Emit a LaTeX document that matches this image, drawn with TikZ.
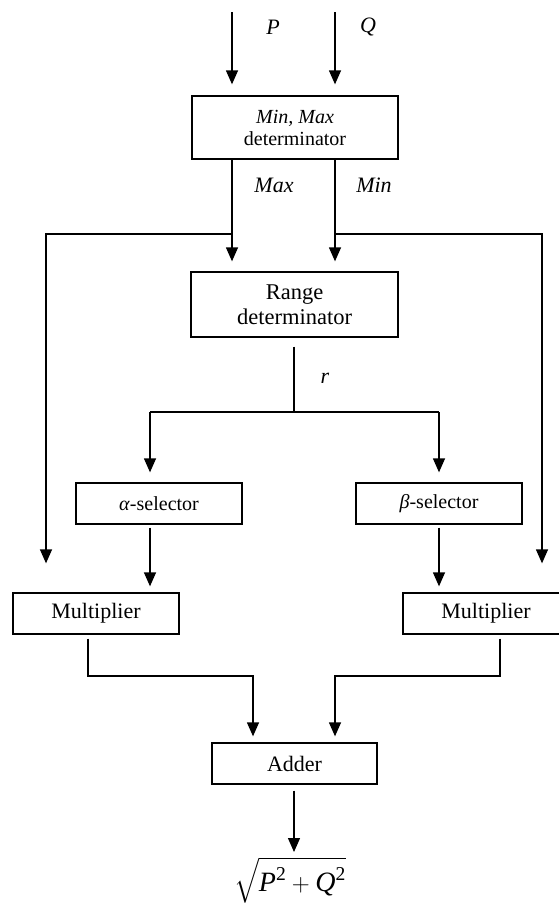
\documentclass[tikz,border=0pt]{standalone}
\usepackage{amsmath}
\usepackage{fontspec}
\setmainfont{Liberation Serif}
\usetikzlibrary{arrows.meta}
\begin{document}
\begin{tikzpicture}[x=1pt,y=-1pt,
  box/.style={draw,line width=1.3pt,inner sep=0pt,align=center,font=\fontsize{20}{22}\selectfont},
  bigbox/.style={box,font=\fontsize{22.5}{25}\selectfont},
  wbox/.style={box,font=\fontsize{22}{24}\selectfont},
  arr/.style={line width=1.3pt,-{Triangle[length=14pt,width=12pt]}},
  ln/.style={line width=1.3pt},
  lab/.style={font=\fontsize{22}{24}\selectfont\itshape,inner sep=0pt}]
\useasboundingbox (0,0) rectangle (559,905);
% boxes
\node[box,minimum width=206pt,minimum height=63pt] (mm) at (295,127.5) {\textit{Min, Max}\\determinator};
\node[bigbox,minimum width=207pt,minimum height=65pt] (rng) at (294.5,304.5) {Range\\determinator};
\node[box,minimum width=166pt,minimum height=41pt] (al) at (159,503.5) {\textit{α}-selector};
\node[box,minimum width=166pt,minimum height=41pt] (be) at (439,503.5) {\textit{β}-selector};
\node[wbox,minimum width=166pt,minimum height=41pt] (mL) at (96,613.5) {Multiplier};
\node[wbox,minimum width=166pt,minimum height=41pt] (mR) at (486,613.5) {Multiplier};
\node[wbox,minimum width=165pt,minimum height=41pt] (ad) at (294.5,763.5) {Adder};
\node[anchor=south,inner sep=0pt,font=\fontsize{28}{30}\selectfont] (res) at (290,903) {$\sqrt{\textit{P}^{\text{2}}+\textit{Q}^{\text{2}}}$};
% labels
\node[lab] (lp) at (273,27) {P};
\node[lab] (lq) at (368,27) {Q};
\node[lab] (lmax) at (274,185) {Max};
\node[lab] (lmin) at (374,185) {Min};
\node[lab] (lr) at (325,378) {r};
% coordinates
\coordinate (pin) at (232,12);
\coordinate (qin) at (335,12);
\coordinate (bl) at (46,234);
\coordinate (br) at (542,234);
\coordinate (rj) at (294,412);
\coordinate (ca) at (150,412);
\coordinate (cb) at (439,412);
\coordinate (jl) at (88,676);
\coordinate (jr) at (500,676);
\coordinate (xl) at (253,676);
\coordinate (xr) at (335,676);
\coordinate (out) at (294,852);
% connectors
\draw[arr,shorten >=11pt] (pin) -- (pin |- mm.north);
\draw[arr,shorten >=11pt] (qin) -- (qin |- mm.north);
\draw[arr,shorten >=10pt] (mm.south -| pin) -- (rng.north -| pin);
\draw[arr,shorten >=10pt] (mm.south -| qin) -- (rng.north -| qin);
\draw[arr,shorten >=29pt] (pin |- bl) -- (bl) -- (bl |- mL.north);
\draw[arr,shorten >=29pt] (qin |- br) -- (br) -- (br |- mR.north);
\draw[ln,shorten <=9pt] (rng.south -| rj) -- (rj);
\draw[ln] (ca) -- (cb);
\draw[arr,shorten >=10pt] (ca) -- (ca |- al.north);
\draw[arr,shorten >=10pt] (cb) -- (cb |- be.north);
\draw[arr,shorten <=3pt,shorten >=6pt] (ca |- al.south) -- (ca |- mL.north);
\draw[arr,shorten <=3pt,shorten >=6pt] (cb |- be.south) -- (cb |- mR.north);
\draw[arr,shorten <=4pt,shorten >=6pt] (jl |- mL.south) -- (jl) -- (xl) -- (xl |- ad.north);
\draw[arr,shorten <=4pt,shorten >=6pt] (jr |- mR.south) -- (jr) -- (xr) -- (xr |- ad.north);
\draw[arr,shorten <=6pt] (ad.south -| out) -- (out);
\end{tikzpicture}
\end{document}
